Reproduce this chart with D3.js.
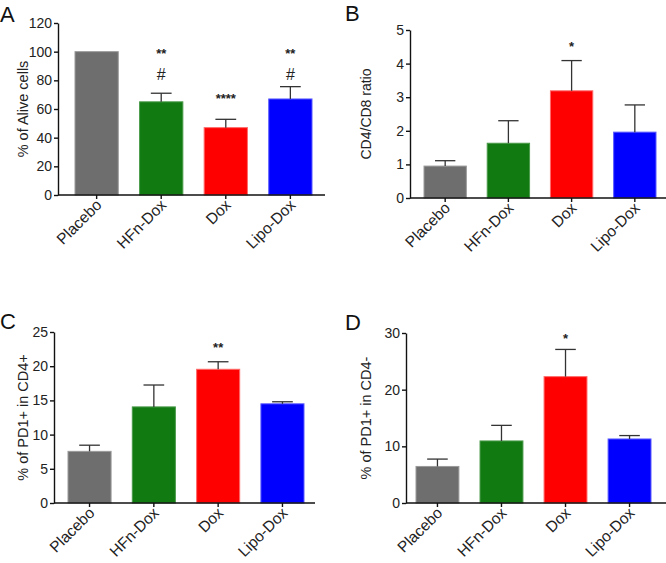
<!DOCTYPE html>
<html lang="en">
<head>
<meta charset="UTF-8">
<title>Dox panels</title>
<style>
  body { margin: 0; background: #fff; }
  svg { display: block; font-family: "Liberation Sans", Arial, sans-serif; }
  .tick text { fill: #222; }
  .domain, .tick line { stroke: #111; stroke-width: 1.4; }
</style>
</head>
<body>
<svg width="666" height="563"></svg>
<script src="https://d3js.org/d3.v7.min.js"></script>
<script>
// groups
const groups = ["Placebo", "HFn-Dox", "Dox", "Lipo-Dox"];
const colors = ["#6e6e6e", "#117a11", "#ff0000", "#0000ff"];
const edges  = ["#9a9a9a", "#4a9a4a", "#ff6a6a", "#5a5aff"];

// A: % of alive cells
const aliveMean = [100, 65, 47, 67];
const aliveSem  = [0, 6, 5.8, 8.6];
const aliveTicks = [0, 20, 40, 60, 80, 100, 120];
const aliveMarks = [[], ["#", "**"], ["****"], ["#", "**"]];
const aliveMarkY = [[], [84, 101], [70], [84, 101]];

// B: CD4/CD8 ratio
const ratioMean = [0.95, 1.63, 3.19, 1.96];
const ratioSem  = [0.16, 0.67, 0.90, 0.81];
const ratioTicks = [0, 1, 2, 3, 4, 5];
const ratioMarks = [[], [], ["*"], []];
const ratioMarkY = [[], [], [4.62], []];

// C: % of PD1+ in CD4+
const cd4Mean = [7.55, 14.05, 19.55, 14.5];
const cd4Sem  = [0.9, 3.2, 1.1, 0.3];
const cd4Ticks = [0, 5, 10, 15, 20, 25];
const cd4Marks = [[], [], ["**"], []];
const cd4MarkY = [[], [], [23.3], []];

// D: % of PD1+ in CD4-
const cd4negMean = [6.45, 10.95, 22.3, 11.3];
const cd4negSem  = [1.3, 2.75, 4.8, 0.6];
const cd4negTicks = [0, 10, 20, 30];
const cd4negMarks = [[], [], ["*"], []];
const cd4negMarkY = [[], [], [29.6], []];

const svg = d3.select("svg");

function panel(o) {
  const g = svg.append("g");
  const y = d3.scaleLinear().domain([0, o.ticks[o.ticks.length - 1]]).range([o.bottom, o.top]);
  const x = d3.scaleBand().domain(groups).range([o.barL, o.barR]).paddingInner(0.33).paddingOuter(0);

  // bars
  g.selectAll("rect.bar").data(o.mean).join("rect")
    .attr("x", (d, i) => x(groups[i]))
    .attr("y", d => y(d))
    .attr("width", x.bandwidth())
    .attr("height", d => o.bottom - y(d))
    .attr("fill", (d, i) => colors[i])
    .attr("stroke", (d, i) => edges[i])
    .attr("stroke-width", 1);

  // upper error bars
  const cap = x.bandwidth() * 0.24;
  o.mean.forEach((m, i) => {
    if (!o.sem[i]) return;
    const cx = x(groups[i]) + x.bandwidth() / 2;
    g.append("line").attr("x1", cx).attr("x2", cx)
      .attr("y1", y(m)).attr("y2", y(m + o.sem[i]))
      .attr("stroke", "#333").attr("stroke-width", 1.3);
    g.append("line").attr("x1", cx - cap).attr("x2", cx + cap)
      .attr("y1", y(m + o.sem[i])).attr("y2", y(m + o.sem[i]))
      .attr("stroke", "#333").attr("stroke-width", 1.3);
  });

  // significance marks
  o.marks.forEach((arr, i) => {
    arr.forEach((t, k) => {
      g.append("text")
        .attr("x", x(groups[i]) + x.bandwidth() / 2)
        .attr("y", y(o.markY[i][k]))
        .attr("dy", t === "#" ? "0.36em" : "0.62em")
        .attr("text-anchor", "middle")
        .attr("font-size", t === "#" ? 16 : 13)
        .attr("font-weight", t === "#" ? "normal" : "bold")
        .attr("fill", "#222")
        .text(t);
    });
  });

  // y axis
  g.append("g").attr("transform", `translate(${o.left},0)`)
    .call(d3.axisLeft(y).tickValues(o.ticks).tickFormat(d => d).tickSize(4).tickSizeOuter(0).tickPadding(2))
    .attr("font-family", null)
    .call(a => a.selectAll("text").attr("font-size", 14));

  // x axis
  const xa = g.append("g").attr("transform", `translate(0,${o.bottom})`)
    .call(d3.axisBottom(x).tickSize(4).tickSizeOuter(0).tickFormat(""));
  xa.select(".domain").remove();
  g.append("line").attr("x1", o.left).attr("x2", o.right)
    .attr("y1", o.bottom).attr("y2", o.bottom)
    .attr("stroke", "#111").attr("stroke-width", 1.4);

  g.selectAll("text.xl").data(groups).join("text")
    .attr("class", "xl")
    .attr("text-anchor", "end")
    .attr("font-size", 15.5)
    .attr("fill", "#222")
    .attr("transform", d => `translate(${x(d) + x.bandwidth() / 2 + 6},${o.bottom + 11}) rotate(-45)`)
    .text(d => d);

  // y title
  g.append("text")
    .attr("transform", `translate(${o.titleX},${(o.top + o.bottom) / 2}) rotate(-90)`)
    .attr("text-anchor", "middle")
    .attr("font-size", o.titleSize)
    .attr("fill", "#222")
    .text(o.title);

  // panel letter
  g.append("text").attr("x", o.letterX).attr("y", o.letterY)
    .attr("font-size", 22).attr("fill", "#111").text(o.letter);
}

panel({ letter: "A", letterX: 0, letterY: 22, title: "% of Alive cells", titleX: 28, titleSize: 14.5,
  left: 58, right: 325, top: 23, bottom: 195, barL: 75, barR: 312,
  mean: aliveMean, sem: aliveSem, ticks: aliveTicks, marks: aliveMarks, markY: aliveMarkY });

panel({ letter: "B", letterX: 345, letterY: 21, title: "CD4/CD8 ratio", titleX: 371, titleSize: 14,
  left: 410, right: 666, top: 30, bottom: 198, barL: 424, barR: 656,
  mean: ratioMean, sem: ratioSem, ticks: ratioTicks, marks: ratioMarks, markY: ratioMarkY });

panel({ letter: "C", letterX: 0, letterY: 329, title: "% of PD1+ in CD4+", titleX: 28, titleSize: 14.5,
  left: 54, right: 315, top: 332, bottom: 503, barL: 68, barR: 304,
  mean: cd4Mean, sem: cd4Sem, ticks: cd4Ticks, marks: cd4Marks, markY: cd4MarkY });

panel({ letter: "D", letterX: 345, letterY: 330, title: "% of PD1+ in CD4-", titleX: 371, titleSize: 14.5,
  left: 406, right: 666, top: 333, bottom: 503, barL: 416, barR: 651,
  mean: cd4negMean, sem: cd4negSem, ticks: cd4negTicks, marks: cd4negMarks, markY: cd4negMarkY });
</script>
</body>
</html>
